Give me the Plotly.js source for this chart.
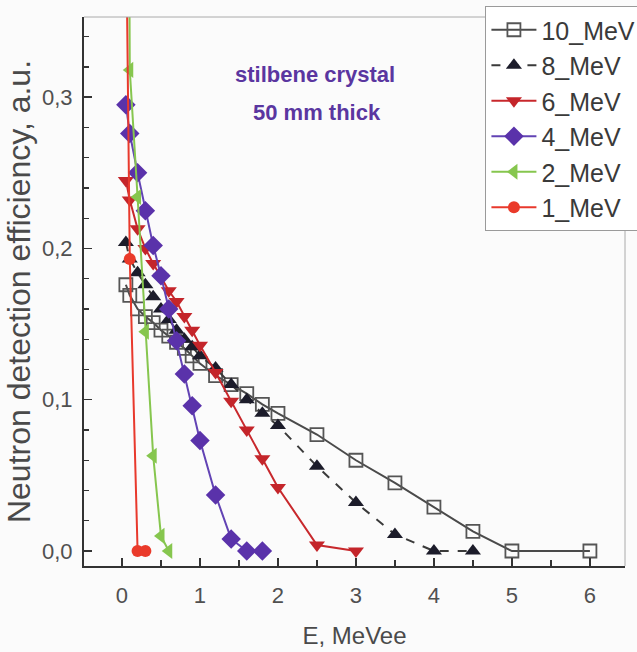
<!DOCTYPE html>
<html>
<head>
<meta charset="utf-8">
<script src="https://cdn.plot.ly/plotly-3.0.1.min.js"></script>
<style>
html,body{margin:0;padding:0;background:#fbfbfb;}
#chart{width:637px;height:652px;}
</style>
</head>
<body>
<div id="chart"></div>
<script>
// Data
const seriesNames = ["10_MeV", "8_MeV", "6_MeV", "4_MeV", "2_MeV", "1_MeV"];

const e10 = [0.05, 0.1, 0.2, 0.3, 0.4, 0.5, 0.6, 0.7, 0.8, 0.9, 1.0, 1.2, 1.4, 1.6, 1.8, 2.0, 2.5, 3.0, 3.5, 4.0, 4.5, 5.0, 6.0];
const eff10 = [0.176, 0.169, 0.160, 0.155, 0.151, 0.146, 0.142, 0.138, 0.134, 0.129, 0.124, 0.116, 0.110, 0.104, 0.097, 0.091, 0.077, 0.060, 0.045, 0.029, 0.013, 0.0, 0.0];

const e8 = [0.05, 0.1, 0.2, 0.3, 0.4, 0.5, 0.6, 0.7, 0.8, 0.9, 1.0, 1.2, 1.4, 1.6, 1.8, 2.0, 2.5, 3.0, 3.5, 4.0, 4.5];
const eff8 = [0.204, 0.193, 0.184, 0.176, 0.168, 0.160, 0.153, 0.146, 0.140, 0.135, 0.129, 0.121, 0.110, 0.100, 0.091, 0.083, 0.056, 0.032, 0.011, 0.0, 0.0];

const e6 = [0.05, 0.1, 0.2, 0.3, 0.4, 0.5, 0.6, 0.7, 0.8, 0.9, 1.0, 1.2, 1.4, 1.6, 1.8, 2.0, 2.5, 3.0];
const eff6 = [0.245, 0.232, 0.213, 0.200, 0.190, 0.181, 0.172, 0.165, 0.155, 0.146, 0.136, 0.118, 0.099, 0.080, 0.061, 0.042, 0.004, 0.0];

const e4 = [0.05, 0.1, 0.2, 0.3, 0.4, 0.5, 0.6, 0.7, 0.8, 0.9, 1.0, 1.2, 1.4, 1.6, 1.8];
const eff4 = [0.295, 0.276, 0.250, 0.225, 0.202, 0.182, 0.160, 0.139, 0.117, 0.096, 0.073, 0.037, 0.008, 0.0, 0.0];

const e2 = [0.05, 0.1, 0.2, 0.3, 0.4, 0.5, 0.6];
const eff2 = [0.90, 0.318, 0.234, 0.145, 0.063, 0.010, 0.0];

const e1 = [0.05, 0.1, 0.2, 0.3];
const eff1 = [0.43, 0.193, 0.0, 0.0];

const xTickVals = [0, 1, 2, 3, 4, 5, 6];
const yTickVals = [0.0, 0.1, 0.2, 0.3];
const noteLines = ["stilbene crystal", "50 mm thick"];

const sans = "Liberation Sans, Arial, sans-serif";

const traces = [
  {x: e10, y: eff10, name: seriesNames[0], mode: "lines+markers",
   line: {color: "#4a4a4a", width: 2},
   marker: {symbol: "square-open", size: 13, color: "#555555", line: {width: 1.8, color: "#555555"}}},
  {x: e8, y: eff8, name: seriesNames[1], mode: "lines+markers",
   line: {color: "#3a3a3a", width: 2, dash: "dash"},
   marker: {symbol: "triangle-up", size: 14, color: "#1c1c2a"}},
  {x: e6, y: eff6, name: seriesNames[2], mode: "lines+markers",
   line: {color: "#c8282c", width: 2},
   marker: {symbol: "triangle-down", size: 14, color: "#c4252a"}},
  {x: e4, y: eff4, name: seriesNames[3], mode: "lines+markers",
   line: {color: "#6243b4", width: 2},
   marker: {symbol: "diamond", size: 15, color: "#5a32aa"}},
  {x: e2, y: eff2, name: seriesNames[4], mode: "lines+markers",
   line: {color: "#86c64e", width: 2},
   marker: {symbol: "triangle-left", size: 14, color: "#86c64e"}},
  {x: e1, y: eff1, name: seriesNames[5], mode: "lines+markers",
   line: {color: "#e8392c", width: 2},
   marker: {symbol: "circle", size: 12, color: "#ea3a2a"}}
];

const tickFont = {family: sans, size: 22, color: "#505050"};

const layout = {
  width: 637, height: 652,
  paper_bgcolor: "#fbfbfb", plot_bgcolor: "#fbfbfb",
  margin: {l: 84, r: 12, t: 17, b: 86, autoexpand: false},
  separators: ", ",
  showlegend: true,
  legend: {
    x: 0.742, y: 1.02, xanchor: "left", yanchor: "top",
    bgcolor: "#ffffff", bordercolor: "#9a9a9a", borderwidth: 1,
    font: {family: sans, size: 25, color: "#3a3a3a"},
    itemwidth: 45, tracegroupgap: 0
  },
  xaxis: {
    range: [-0.487, 6.45], tickvals: xTickVals, ticks: "inside", ticklen: 8, tickwidth: 1.5,
    tickcolor: "#333", showline: true, linecolor: "#333", linewidth: 2,
    showgrid: false, zeroline: false, tickfont: tickFont, ticklabelstandoff: 9,
    minor: {dtick: 0.5, ticks: "inside", ticklen: 6, tickcolor: "#333", tickwidth: 1.5},
    title: {text: "E, MeVee", font: {family: sans, size: 24, color: "#4a4a4a"}, standoff: 20}
  },
  yaxis: {
    range: [-0.0099, 0.353], tickvals: yTickVals, tickformat: ".1f", ticks: "inside", ticklen: 8, tickwidth: 1.5,
    tickcolor: "#333", showline: true, linecolor: "#333", linewidth: 2,
    showgrid: false, zeroline: false, tickfont: tickFont, ticklabelstandoff: 5,
    minor: {dtick: 0.02, ticks: "inside", ticklen: 5, tickcolor: "#333", tickwidth: 1.2},
    title: {text: "Neutron detection efficiency, a.u.", font: {family: sans, size: 32, color: "#4a4a4a"}, standoff: 2}
  },
  shapes: [
    {type: "line", xref: "paper", yref: "paper", x0: 0, x1: 1, y0: 1, y1: 1, line: {color: "#aaaaaa", width: 1}},
    {type: "line", xref: "paper", yref: "paper", x0: 1, x1: 1, y0: 0, y1: 1, line: {color: "#aaaaaa", width: 1}}
  ],
  annotations: [
    {x: 2.47, y: 0.315, xref: "x", yref: "y", text: "<b>" + noteLines[0] + "</b>", showarrow: false,
     font: {family: sans, size: 22, color: "#5a36a0"}},
    {x: 2.5, y: 0.290, xref: "x", yref: "y", text: "<b>" + noteLines[1] + "</b>", showarrow: false,
     font: {family: sans, size: 22, color: "#5a36a0"}}
  ]
};

Plotly.newPlot("chart", traces, layout, {displayModeBar: false, staticPlot: true});
</script>
</body>
</html>
